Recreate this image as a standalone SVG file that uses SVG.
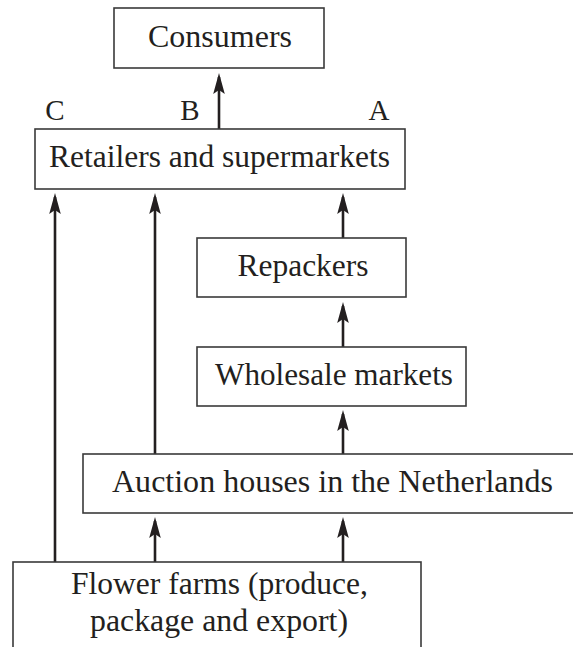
<svg xmlns="http://www.w3.org/2000/svg" width="573" height="647" viewBox="0 0 573 647">
<style>
.box{fill:#fff;stroke:#3a3a3a;stroke-width:1.6}
.t{font-family:"Liberation Serif","Times New Roman",serif;font-size:31px;fill:#231f20;text-anchor:middle}
.lbl{font-family:"Liberation Serif","Times New Roman",serif;font-size:29px;fill:#231f20;text-anchor:middle}
.c{stroke:#231f20;stroke-width:2.6;fill:none;marker-end:url(#ah)}
</style>
<defs>
<marker id="ah" markerUnits="userSpaceOnUse" markerWidth="26" markerHeight="14" viewBox="-22 -7 26 14" refX="0" refY="0" orient="auto" overflow="visible">
<path d="M4,0 L-17,-5.8 L-13,0 L-17,5.8 Z" fill="#231f20"/>
</marker>
</defs>
<rect width="573" height="647" fill="#fff"/>
<g id="connectors">
<line class="c" x1="219" y1="129" x2="219" y2="77"/>
<line class="c" x1="55" y1="562" x2="55" y2="197"/>
<line class="c" x1="155" y1="454" x2="155" y2="197"/>
<line class="c" x1="343" y1="238" x2="343" y2="197"/>
<line class="c" x1="343" y1="347" x2="343" y2="306"/>
<line class="c" x1="343" y1="454" x2="343" y2="414"/>
<line class="c" x1="155" y1="562" x2="155" y2="521"/>
<line class="c" x1="343" y1="562" x2="343" y2="521"/>
</g>
<g id="consumers">
<rect class="box" x="114" y="8" width="210" height="60"/>
<text class="t" x="220" y="47" textLength="144" lengthAdjust="spacingAndGlyphs">Consumers</text>
</g>
<g id="labels">
<text class="lbl" x="55" y="120">C</text>
<text class="lbl" x="190" y="120">B</text>
<text class="lbl" x="379" y="120">A</text>
</g>
<g id="retailers">
<rect class="box" x="35" y="129" width="370" height="60"/>
<text class="t" x="219.5" y="167" textLength="341" lengthAdjust="spacingAndGlyphs">Retailers and supermarkets</text>
</g>
<g id="repackers">
<rect class="box" x="197" y="238" width="209" height="59"/>
<text class="t" x="303" y="276" textLength="131" lengthAdjust="spacingAndGlyphs">Repackers</text>
</g>
<g id="wholesale">
<rect class="box" x="197" y="347" width="269" height="59"/>
<text class="t" x="334" y="385" textLength="238" lengthAdjust="spacingAndGlyphs">Wholesale markets</text>
</g>
<g id="auction">
<rect class="box" x="83" y="454" width="495" height="59"/>
<text class="t" x="332.5" y="492" textLength="441" lengthAdjust="spacingAndGlyphs">Auction houses in the Netherlands</text>
</g>
<g id="farms">
<rect class="box" x="13" y="562" width="408" height="100"/>
<text class="t" x="219.5" y="594" textLength="297" lengthAdjust="spacingAndGlyphs">Flower farms (produce,</text>
<text class="t" x="219" y="631" textLength="258" lengthAdjust="spacingAndGlyphs">package and export)</text>
</g>
</svg>
